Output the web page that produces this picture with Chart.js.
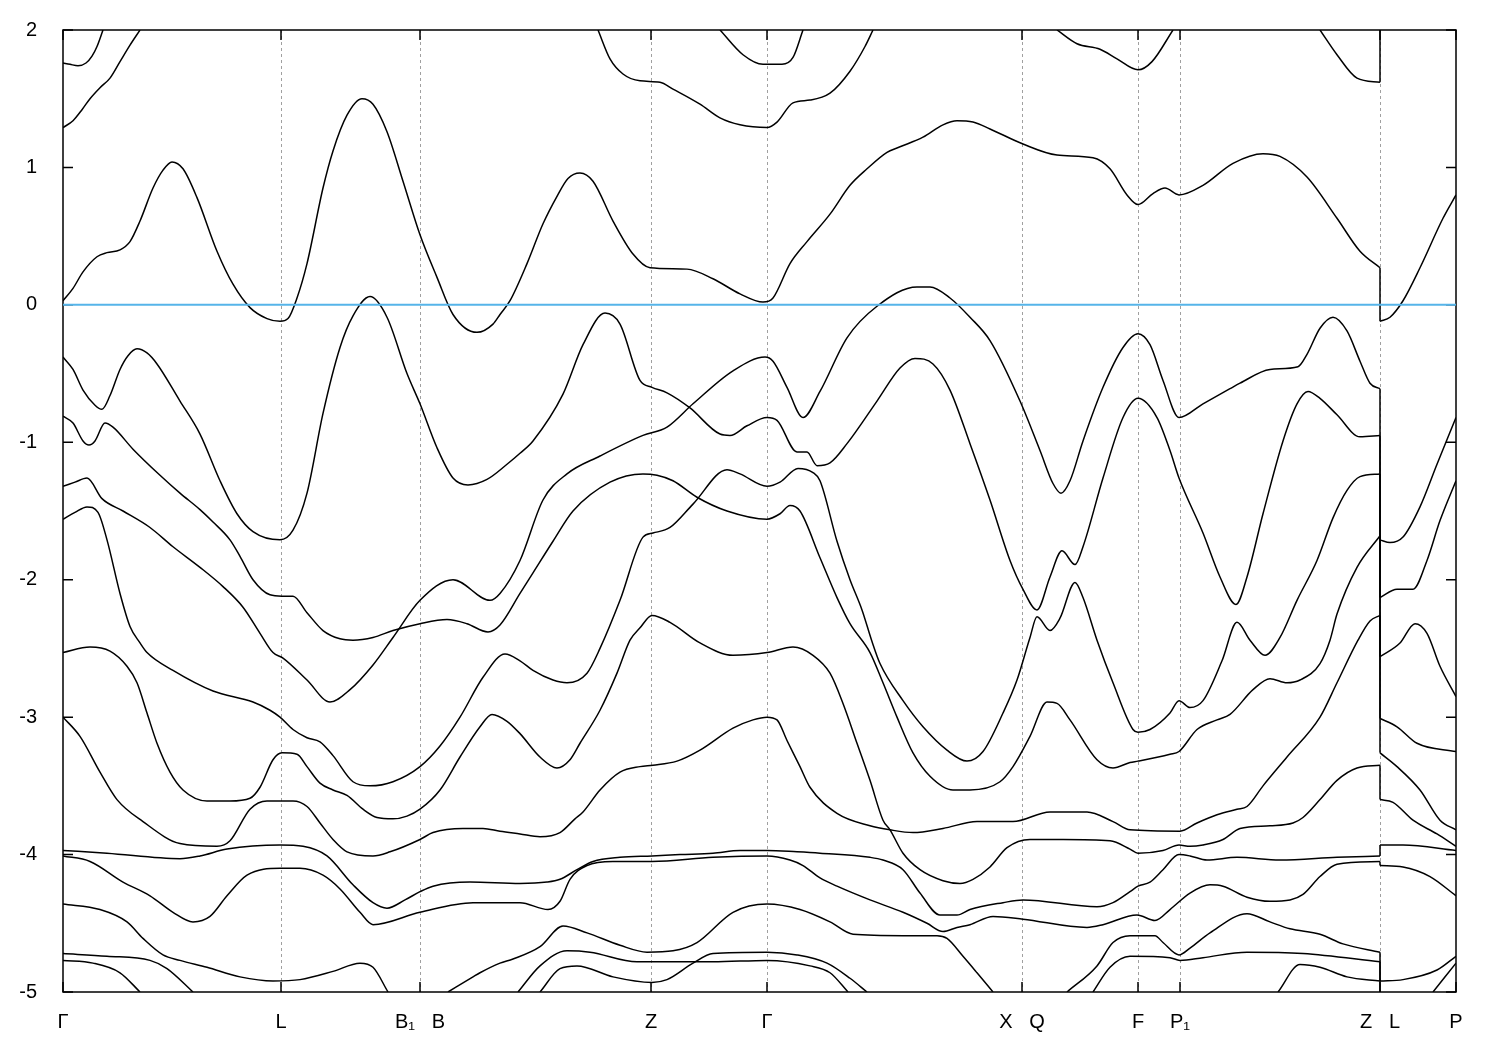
<!DOCTYPE html>
<html>
<head>
<meta charset="utf-8">
<title>Band structure</title>
<script src="https://cdn.jsdelivr.net/npm/chart.js@4.4.0/dist/chart.umd.min.js"></script>
<style>
  html, body { margin: 0; padding: 0; background: #fff; }
  canvas { display: block; }
</style>
</head>
<body>
<canvas id="bands" width="1500" height="1050"></canvas>
<script>
// k-path (path units) and labels of the high symmetry points
const kPoints = [63, 281, 420, 651, 767, 1022, 1138, 1180, 1380, 1456];
const kLabels = ['Γ', 'L', 'B₁   B', 'Z', 'Γ', 'X   Q', 'F', 'P₁', 'Z   L', 'P'];
const energyTicks = [2, 1, 0, -1, -2, -3, -4, -5];

// bands as [k, E(eV)] ; a repeated k value is the Z|L jump
const bandA = [[63,1.76],[70,1.75],[78,1.74],[86,1.76],[92,1.81],[97,1.88],[103,2.0]];
const bandB = [[63,1.29],[73,1.34],[82,1.42],[90,1.50],[100,1.58],[110,1.65],[120,1.77],[130,1.89],[140,2.0]];
const bandC = [[63,0.03],[73,0.12],[83,0.24],[97,0.35],[107,0.38],[120,0.40],[130,0.46],[140,0.61],[153,0.85],[163,0.98],[172,1.04],[183,0.99],[197,0.78],[217,0.39],[233,0.15],[250,-0.02],[267,-0.10],[280,-0.12],[288,-0.10],[297,0.05],[307,0.30],[323,0.85],[333,1.12],[347,1.38],[362,1.50],[373,1.46],[387,1.26],[403,0.90],[420,0.51],[437,0.20],[453,-0.07],[477,-0.20],[493,-0.14],[500,-0.07],[510,0.03],[527,0.30],[543,0.59],[557,0.79],[568,0.92],[580,0.96],[593,0.90],[613,0.61],[633,0.37],[650,0.27],[687,0.26],[713,0.19],[740,0.08],[763,0.02],[773,0.05],[790,0.30],[807,0.46],[830,0.66],[850,0.87],[867,0.99],[887,1.11],[900,1.15],[923,1.22],[943,1.31],[957,1.34],[973,1.33],[990,1.28],[1023,1.17],[1057,1.09],[1093,1.07],[1110,0.99],[1127,0.80],[1138,0.73],[1153,0.81],[1165,0.85],[1179,0.80],[1203,0.87],[1233,1.03],[1263,1.10],[1280,1.08],[1307,0.93],[1337,0.63],[1360,0.39],[1380,0.27],
  [1380,-0.12],[1390,-0.09],[1403,0.03],[1420,0.27],[1443,0.63],[1456,0.80]];
const bandD = [[598,2.0],[610,1.79],[623,1.68],[640,1.63],[660,1.62],[673,1.57],[700,1.46],[720,1.36],[740,1.31],[767,1.29],[777,1.33],[793,1.47],[810,1.49],[830,1.54],[850,1.70],[865,1.88],[873,2.0]];
const bandE = [[720,2.0],[743,1.82],[763,1.75],[782,1.75],[793,1.80],[803,2.0]];
const bandF = [[1057,2.0],[1077,1.90],[1100,1.86],[1117,1.79],[1138,1.71],[1152,1.77],[1173,2.0]];
const bandG = [[1320,2.0],[1337,1.82],[1357,1.65],[1380,1.62],[1380,2.1]];
const bandH = [[63,-0.38],[73,-0.47],[83,-0.62],[95,-0.73],[102,-0.76],[110,-0.66],[120,-0.47],[128,-0.37],[137,-0.32],[147,-0.35],[157,-0.43],[180,-0.70],[200,-0.94],[220,-1.28],[237,-1.52],[253,-1.65],[280,-1.71],[293,-1.64],[307,-1.37],[323,-0.79],[340,-0.31],[353,-0.08],[370,0.06],[387,-0.09],[407,-0.50],[420,-0.72],[437,-1.04],[453,-1.26],[468,-1.31],[487,-1.27],[507,-1.16],[520,-1.08],[533,-0.99],[563,-0.65],[583,-0.29],[605,-0.06],[620,-0.14],[640,-0.55],[652,-0.60],[667,-0.64],[690,-0.75],[720,-0.94],[730,-0.95],[747,-0.88],[767,-0.82],[777,-0.84],[797,-1.07],[807,-1.07],[817,-1.17],[830,-1.15],[847,-1.01],[877,-0.70],[900,-0.46],[915,-0.39],[933,-0.43],[950,-0.62],[970,-1.01],[990,-1.42],[1010,-1.86],[1023,-2.07],[1037,-2.22],[1050,-1.98],[1062,-1.79],[1075,-1.89],[1083,-1.76],[1103,-1.26],[1123,-0.82],[1138,-0.68],[1157,-0.82],[1170,-1.06],[1179,-1.26],[1203,-1.66],[1220,-1.98],[1236,-2.18],[1247,-1.98],[1263,-1.52],[1283,-0.99],[1297,-0.72],[1308,-0.63],[1320,-0.68],[1337,-0.80],[1360,-0.96],[1380,-0.95],
  [1380,-2.13],[1397,-2.07],[1413,-2.07],[1427,-1.86],[1440,-1.57],[1456,-1.28]];
const bandI = [[63,-0.81],[73,-0.86],[83,-0.99],[89,-1.02],[95,-0.99],[105,-0.86],[113,-0.89],[133,-1.05],[160,-1.24],[180,-1.37],[200,-1.49],[213,-1.58],[230,-1.71],[240,-1.83],[253,-2.0],[270,-2.11],[282,-2.12],[293,-2.12],[307,-2.24],[323,-2.37],[340,-2.43],[353,-2.44],[373,-2.42],[393,-2.37],[420,-2.32],[447,-2.29],[467,-2.32],[488,-2.38],[500,-2.33],[520,-2.10],[533,-1.95],[553,-1.72],[573,-1.50],[610,-1.29],[643,-1.23],[657,-1.24],[673,-1.28],[697,-1.40],[727,-1.50],[767,-1.56],[780,-1.52],[790,-1.46],[800,-1.50],[820,-1.84],[837,-2.13],[850,-2.32],[870,-2.53],[883,-2.75],[897,-3.0],[913,-3.26],[930,-3.43],[953,-3.53],[970,-3.53],[1000,-3.47],[1013,-3.36],[1030,-3.14],[1047,-2.89],[1057,-2.90],[1070,-3.02],[1097,-3.31],[1113,-3.37],[1130,-3.33],[1138,-3.32],[1170,-3.27],[1179,-3.25],[1197,-3.09],[1217,-3.02],[1230,-2.98],[1253,-2.80],[1270,-2.72],[1287,-2.75],[1300,-2.73],[1320,-2.61],[1330,-2.44],[1337,-2.25],[1357,-1.91],[1380,-1.68],
  [1380,-3.01],[1397,-3.07],[1417,-3.19],[1456,-3.25]];
const bandJ = [[63,-1.32],[75,-1.29],[87,-1.26],[102,-1.41],[123,-1.50],[150,-1.62],[173,-1.76],[200,-1.91],[223,-2.05],[243,-2.20],[260,-2.39],[273,-2.53],[283,-2.57],[307,-2.73],[330,-2.89],[350,-2.80],[373,-2.62],[393,-2.42],[420,-2.15],[453,-2.0],[490,-2.15],[500,-2.10],[520,-1.86],[543,-1.42],[567,-1.23],[600,-1.10],[643,-0.95],[667,-0.89],[693,-0.72],[733,-0.48],[765,-0.38],[773,-0.41],[787,-0.60],[803,-0.82],[820,-0.63],[847,-0.24],[877,-0.01],[917,0.13],[930,0.13],[950,0.05],[970,-0.09],[990,-0.26],[1020,-0.70],[1040,-1.06],[1053,-1.30],[1061,-1.37],[1070,-1.28],[1083,-0.99],[1103,-0.60],[1123,-0.31],[1138,-0.21],[1150,-0.29],[1163,-0.55],[1179,-0.82],[1203,-0.72],[1230,-0.61],[1240,-0.57],[1270,-0.47],[1298,-0.45],[1307,-0.36],[1320,-0.17],[1333,-0.09],[1347,-0.19],[1360,-0.41],[1370,-0.57],[1380,-0.61],
  [1380,-1.71],[1390,-1.73],[1403,-1.69],[1420,-1.47],[1437,-1.16],[1456,-0.82]];
const bandL = [[63,-1.56],[75,-1.51],[87,-1.47],[98,-1.51],[107,-1.71],[120,-2.10],[130,-2.34],[140,-2.46],[147,-2.53],[173,-2.66],[213,-2.81],[253,-2.89],[270,-2.95],[280,-3.0],[293,-3.09],[307,-3.15],[320,-3.18],[333,-3.28],[353,-3.47],[370,-3.50],[393,-3.47],[420,-3.36],[440,-3.21],[460,-3.0],[483,-2.71],[505,-2.54],[520,-2.59],[533,-2.66],[553,-2.73],[567,-2.75],[587,-2.68],[600,-2.50],[620,-2.15],[643,-1.69],[653,-1.66],[670,-1.62],[693,-1.45],[727,-1.20],[740,-1.23],[767,-1.32],[780,-1.29],[798,-1.19],[813,-1.22],[820,-1.28],[837,-1.72],[850,-2.0],[862,-2.22],[872,-2.45],[880,-2.61],[903,-2.88],[923,-3.07],[947,-3.24],[967,-3.32],[983,-3.25],[1003,-2.97],[1017,-2.73],[1030,-2.42],[1037,-2.27],[1050,-2.37],[1060,-2.28],[1075,-2.02],[1083,-2.13],[1097,-2.44],[1113,-2.75],[1133,-3.09],[1138,-3.11],[1150,-3.09],[1170,-2.97],[1179,-2.88],[1190,-2.93],[1203,-2.88],[1222,-2.59],[1237,-2.31],[1250,-2.44],[1265,-2.55],[1280,-2.42],[1297,-2.15],[1317,-1.86],[1333,-1.55],[1347,-1.35],[1360,-1.25],[1380,-1.23],
  [1380,-2.56],[1400,-2.46],[1415,-2.32],[1427,-2.39],[1440,-2.63],[1456,-2.85]];
const bandM = [[63,-2.53],[90,-2.49],[110,-2.52],[127,-2.63],[137,-2.75],[147,-2.97],[157,-3.19],[170,-3.40],[183,-3.53],[207,-3.61],[230,-3.61],[250,-3.59],[260,-3.51],[273,-3.31],[282,-3.26],[297,-3.27],[307,-3.36],[320,-3.48],[333,-3.53],[347,-3.57],[363,-3.67],[377,-3.73],[393,-3.74],[407,-3.72],[420,-3.67],[440,-3.53],[460,-3.29],[480,-3.07],[492,-2.98],[507,-3.03],[520,-3.12],[540,-3.29],[557,-3.37],[570,-3.31],[580,-3.19],[600,-2.95],[617,-2.68],[630,-2.44],[640,-2.35],[652,-2.26],[670,-2.31],[700,-2.46],[733,-2.55],[767,-2.53],[793,-2.49],[813,-2.55],[830,-2.68],[843,-2.90],[857,-3.19],[870,-3.46],[883,-3.75],[890,-3.82],[903,-3.99],[920,-4.11],[943,-4.19],[960,-4.21],[973,-4.18],[990,-4.09],[1007,-3.95],[1030,-3.89],[1063,-3.89],[1110,-3.90],[1130,-3.96],[1138,-3.99],[1163,-3.97],[1179,-3.93],[1190,-3.94],[1203,-3.93],[1223,-3.89],[1240,-3.81],[1270,-3.79],[1293,-3.77],[1303,-3.73],[1320,-3.60],[1337,-3.46],[1357,-3.37],[1380,-3.35],
  [1380,-3.60],[1393,-3.62],[1413,-3.75],[1437,-3.85],[1456,-3.94]];
const bandP = [[63,-3.0],[80,-3.14],[100,-3.40],[117,-3.60],[143,-3.76],[180,-3.92],[217,-3.94],[230,-3.90],[250,-3.67],[267,-3.61],[293,-3.61],[307,-3.65],[320,-3.77],[333,-3.89],[347,-3.98],[373,-4.01],[390,-3.98],[420,-3.89],[433,-3.84],[463,-3.81],[483,-3.81],[500,-3.83],[520,-3.85],[540,-3.87],[560,-3.84],[575,-3.74],[583,-3.69],[600,-3.53],[620,-3.40],[640,-3.36],[653,-3.35],[677,-3.32],[700,-3.24],[733,-3.08],[753,-3.02],[767,-3.0],[777,-3.02],[787,-3.17],[800,-3.36],[810,-3.51],[837,-3.70],[870,-3.79],[890,-3.82],[913,-3.84],[943,-3.81],[977,-3.76],[1013,-3.76],[1050,-3.69],[1087,-3.69],[1113,-3.76],[1130,-3.82],[1180,-3.83],[1197,-3.77],[1217,-3.71],[1237,-3.67],[1247,-3.65],[1263,-3.50],[1287,-3.29],[1320,-3.0],[1337,-2.75],[1358,-2.44],[1370,-2.30],[1380,-2.26],
  [1380,-3.26],[1397,-3.36],[1420,-3.53],[1440,-3.75],[1456,-3.82]];
const bandQ1 = [[63,-3.97],[107,-3.99],[180,-4.03],[200,-4.01],[227,-3.96],[280,-3.93],[303,-3.94],[327,-4.01],[353,-4.22],[373,-4.35],[387,-4.39],[405,-4.33],[420,-4.27],[433,-4.23],[470,-4.20],[520,-4.21],[547,-4.20],[560,-4.18],[577,-4.11],[593,-4.05],[620,-4.02],[652,-4.01],[680,-4.00],[713,-3.99],[740,-3.97],[767,-3.97],[797,-3.98],[820,-3.99],[870,-4.02],[883,-4.04],[903,-4.11],[920,-4.28],[940,-4.44],[957,-4.44],[970,-4.40],[1003,-4.35],[1023,-4.33],[1097,-4.38],[1113,-4.35],[1130,-4.27],[1138,-4.23],[1150,-4.20],[1163,-4.11],[1179,-4.00],[1190,-4.01],[1207,-4.04],[1237,-4.02],[1280,-4.04],[1337,-4.02],[1380,-4.01],
  [1380,-3.93],[1403,-3.93],[1456,-3.97]];
const bandQ2 = [[63,-4.01],[90,-4.05],[123,-4.20],[150,-4.30],[173,-4.42],[193,-4.49],[210,-4.45],[227,-4.30],[247,-4.15],[280,-4.10],[300,-4.10],[323,-4.15],[340,-4.25],[360,-4.42],[373,-4.51],[420,-4.42],[473,-4.35],[520,-4.35],[548,-4.40],[560,-4.34],[570,-4.18],[587,-4.08],[613,-4.05],[652,-4.05],[713,-4.02],[767,-4.01],[790,-4.04],[803,-4.08],[820,-4.17],[837,-4.23],[870,-4.33],[903,-4.42],[927,-4.50],[943,-4.56],[957,-4.53],[970,-4.51],[993,-4.45],[1023,-4.47],[1087,-4.53],[1103,-4.51],[1137,-4.44],[1155,-4.48],[1170,-4.40],[1190,-4.28],[1210,-4.22],[1223,-4.23],[1247,-4.31],[1270,-4.34],[1290,-4.33],[1303,-4.29],[1320,-4.16],[1337,-4.07],[1380,-4.05],
  [1380,-4.08],[1403,-4.09],[1430,-4.16],[1456,-4.30]];
const bandR = [[448,-5.0],[473,-4.89],[480,-4.86],[500,-4.79],[513,-4.76],[540,-4.67],[563,-4.52],[587,-4.57],[620,-4.66],[647,-4.71],[673,-4.70],[697,-4.64],[733,-4.42],[767,-4.36],[800,-4.40],[830,-4.49],[853,-4.58],[903,-4.59],[937,-4.59],[947,-4.61],[963,-4.74],[977,-4.86],[993,-5.0]];
const bandS = [[63,-4.36],[100,-4.40],[127,-4.49],[143,-4.61],[163,-4.73],[180,-4.77],[207,-4.82],[240,-4.89],[273,-4.92],[300,-4.91],[333,-4.85],[360,-4.79],[373,-4.82],[388,-5.0]];
const bandV1 = [[63,-4.72],[107,-4.74],[150,-4.77],[167,-4.83],[193,-5.0]];
const bandV2 = [[63,-4.77],[93,-4.79],[120,-4.86],[140,-5.0]];
const bandU6 = [[540,-5.0],[560,-4.83],[577,-4.81],[613,-4.89],[652,-4.93],[667,-4.91],[693,-4.79],[713,-4.72],[767,-4.71],[797,-4.73],[827,-4.79],[850,-4.90],[867,-5.0]];
const bandU7 = [[518,-5.0],[540,-4.81],[567,-4.70],[590,-4.71],[637,-4.78],[713,-4.78],[767,-4.77],[810,-4.81],[830,-4.86],[848,-5.0]];
const bandW1 = [[1067,-5.0],[1097,-4.81],[1113,-4.64],[1130,-4.59],[1155,-4.59],[1163,-4.64],[1179,-4.73],[1190,-4.68],[1210,-4.57],[1247,-4.43],[1270,-4.49],[1290,-4.54],[1320,-4.58],[1343,-4.65],[1380,-4.71],
  [1380,-4.92],[1403,-4.91],[1437,-4.84],[1456,-4.74]];
const bandW2 = [[1093,-5.0],[1110,-4.82],[1130,-4.74],[1170,-4.75],[1180,-4.77],[1203,-4.75],[1247,-4.71],[1303,-4.72],[1380,-4.78],[1380,-5.1]];
const bandW3 = [[1278,-5.0],[1300,-4.80],[1320,-4.82],[1347,-4.89],[1380,-4.92]];
const bandW4 = [[1433,-5.0],[1456,-4.79]];

const allBands = [bandA, bandB, bandC, bandD, bandE, bandF, bandG, bandH, bandI, bandJ, bandL,
  bandM, bandP, bandQ1, bandQ2, bandR, bandS, bandV1, bandV2, bandU6, bandU7, bandW1, bandW2, bandW3, bandW4];

const fontFamily = '"Liberation Sans", Arial, Helvetica, "DejaVu Sans", sans-serif';

// split a band where k repeats (jump at Z|L)
function splitAtJump(points) {
  const parts = [[]];
  points.forEach((p, i) => {
    if (i > 0 && p[0] === points[i - 1][0]) parts.push([]);
    parts[parts.length - 1].push({ x: p[0], y: p[1] });
  });
  return parts;
}

const lineStyle = { showLine: true, pointRadius: 0, pointHoverRadius: 0, fill: false, borderColor: '#000', borderWidth: 1.5 };

const datasets = [{
  // Fermi level
  data: [{ x: kPoints[0], y: 0 }, { x: kPoints[kPoints.length - 1], y: 0 }],
  showLine: true, pointRadius: 0, borderColor: '#56b4e9', borderWidth: 2, tension: 0
}];

allBands.forEach(band => {
  const parts = splitAtJump(band);
  parts.forEach(seg => {
    datasets.push(Object.assign({ data: seg, cubicInterpolationMode: 'monotone', capBezierPoints: false }, lineStyle));
  });
  for (let i = 1; i < parts.length; i++) {
    const a = parts[i - 1][parts[i - 1].length - 1];
    const b = parts[i][0];
    datasets.push(Object.assign({ data: [a, b], tension: 0 }, lineStyle));
  }
});

// frame, inward ticks and dashed k-point lines
const framePlugin = {
  id: 'frame',
  beforeDatasetsDraw(chart) {
    const { ctx, chartArea: a, scales: { x, y } } = chart;
    ctx.save();
    ctx.strokeStyle = '#a0a0a0';
    ctx.lineWidth = 1;
    ctx.setLineDash([3, 3]);
    kPoints.slice(1, -1).forEach(k => {
      const px = Math.round(x.getPixelForValue(k)) + 0.5;
      ctx.beginPath();
      ctx.moveTo(px, a.top);
      ctx.lineTo(px, a.bottom);
      ctx.stroke();
    });
    ctx.setLineDash([]);
    ctx.strokeStyle = '#000';
    ctx.lineWidth = 1.5;
    ctx.strokeRect(a.left, a.top, a.right - a.left, a.bottom - a.top);
    const len = 10;
    ctx.beginPath();
    kPoints.forEach(k => {
      const px = x.getPixelForValue(k);
      ctx.moveTo(px, a.bottom); ctx.lineTo(px, a.bottom - len);
      ctx.moveTo(px, a.top); ctx.lineTo(px, a.top + len);
    });
    energyTicks.forEach(e => {
      const py = y.getPixelForValue(e);
      ctx.moveTo(a.left, py); ctx.lineTo(a.left + len, py);
      ctx.moveTo(a.right, py); ctx.lineTo(a.right - len, py);
    });
    ctx.stroke();
    ctx.restore();
  }
};

new Chart(document.getElementById('bands'), {
  type: 'scatter',
  data: { datasets: datasets },
  options: {
    responsive: false,
    animation: false,
    devicePixelRatio: 1,
    events: [],
    layout: { padding: { top: 27, right: 44, left: 0, bottom: 0 } },
    plugins: { legend: { display: false }, tooltip: { enabled: false } },
    scales: {
      x: {
        type: 'linear',
        min: kPoints[0],
        max: kPoints[kPoints.length - 1],
        afterBuildTicks: scale => { scale.ticks = kPoints.map(v => ({ value: v })); },
        afterFit: scale => { scale.height = 58; },
        grid: { display: false },
        border: { display: false },
        ticks: {
          autoSkip: false, maxRotation: 0, padding: 10, color: '#000',
          font: { family: fontFamily, size: 20 },
          callback: (value, index) => kLabels[index]
        }
      },
      y: {
        min: -5,
        max: 2,
        afterFit: scale => { scale.width = 63; },
        grid: { display: false },
        border: { display: false },
        ticks: { stepSize: 1, padding: 18, color: '#000', font: { family: fontFamily, size: 20 } }
      }
    }
  },
  plugins: [framePlugin]
});
</script>
</body>
</html>
